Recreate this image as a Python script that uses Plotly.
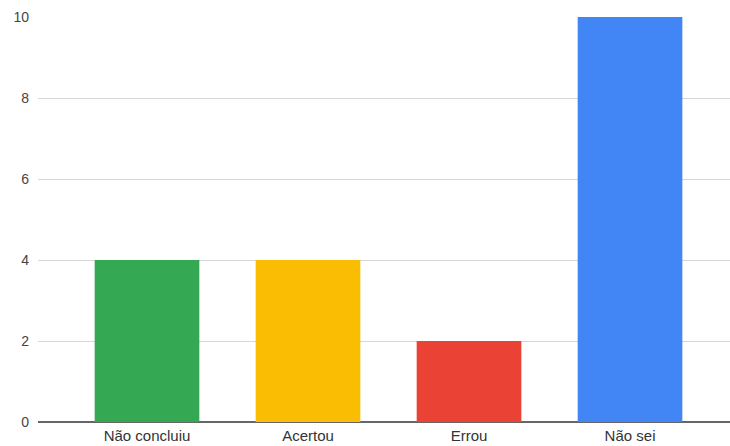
import plotly.graph_objects as go

categories = ["Não concluiu", "Acertou", "Errou", "Não sei"]
values = [4, 4, 2, 10]
colors = ["#34A853", "#FBBC04", "#EA4335", "#4285F4"]
y_ticks = [0, 2, 4, 6, 8, 10]

fig = go.Figure(go.Bar(
    x=list(range(len(categories))), y=values,
    marker=dict(color=colors, line=dict(width=0)),
    width=0.65,
))

fig.update_layout(
    width=730, height=446,
    margin=dict(l=38, r=0, t=17, b=24),
    paper_bgcolor="white", plot_bgcolor="white",
    font=dict(family="Liberation Sans, Arial, sans-serif", size=14, color="#444444"),
    showlegend=False,
    xaxis=dict(
        range=[-0.677, 3.621],
        tickvals=list(range(len(categories))), ticktext=categories,
        showgrid=False, zeroline=False, showline=False, ticks="",
        ticklabelstandoff=3,
        tickfont=dict(size=15, color="#333333"),
    ),
    yaxis=dict(
        range=[0, 10], tickvals=y_ticks,
        showgrid=True, gridcolor="#D6D6D6", gridwidth=1,
        zeroline=True, zerolinecolor="#666666", zerolinewidth=1.5,
        showline=False, ticks="", ticklabelstandoff=8,
        tickfont=dict(size=14, color="#444444"),
    ),
)

fig.write_html("out.html")
